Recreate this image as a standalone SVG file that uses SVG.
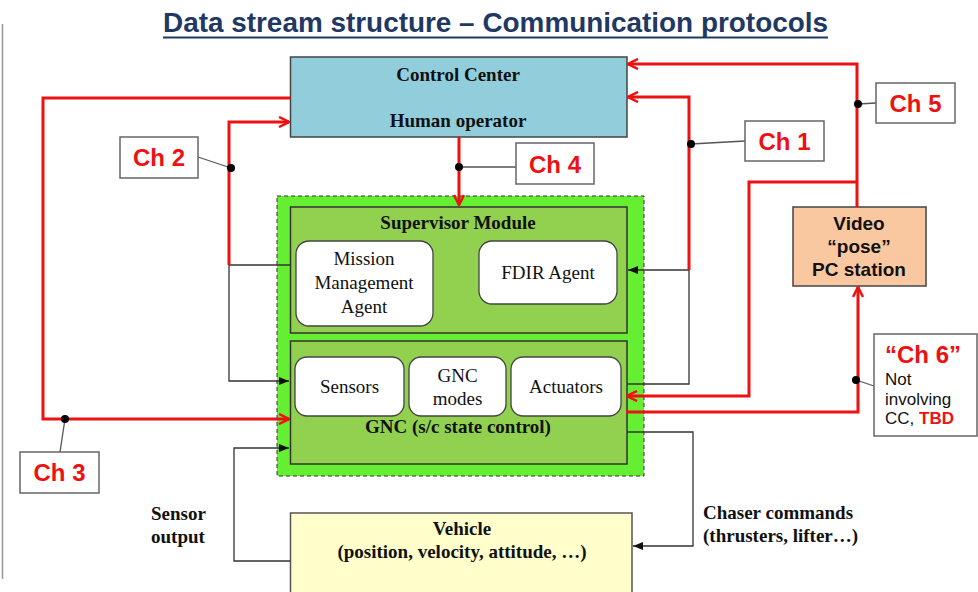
<svg xmlns="http://www.w3.org/2000/svg" width="978" height="592" viewBox="0 0 978 592">
<defs>
<style>
.ser{font-family:"Liberation Serif","Times New Roman",serif;fill:#111}
.serb{font-family:"Liberation Serif","Times New Roman",serif;font-weight:bold;fill:#111}
.sans{font-family:"Liberation Sans",Arial,sans-serif}
.ch{font-family:"Liberation Sans",Arial,sans-serif;font-weight:bold;font-size:24px;fill:#EE1111}
.chbox{fill:#fff;stroke:#666;stroke-width:1.5}
.red{fill:none;stroke:#EE1111;stroke-width:3}
.blk{fill:none;stroke:#333;stroke-width:1.3}
.lead{fill:none;stroke:#555;stroke-width:1.3}
.inner{fill:#92D050;stroke:#333;stroke-width:1.5}
.agent{fill:#fff;stroke:#444;stroke-width:1.3}
</style>
<marker id="ra" viewBox="0 0 12 12" refX="11" refY="6" markerWidth="12" markerHeight="12" markerUnits="userSpaceOnUse" orient="auto">
<path d="M1,1 L11,6 L1,11" fill="none" stroke="#EE1111" stroke-width="2.5"/>
</marker>
<marker id="ba" viewBox="0 0 10 10" refX="10" refY="5" markerWidth="10" markerHeight="10" markerUnits="userSpaceOnUse" orient="auto">
<path d="M0,1 L10,5 L0,9 Z" fill="#111"/>
</marker>
</defs>
<rect width="978" height="592" fill="#fff"/>
<line x1="2.5" y1="24" x2="2.5" y2="579" stroke="#999" stroke-width="1.5"/>
<g id="title">
<text x="163" y="32" class="sans" font-size="27" font-weight="bold" fill="#1F3864" textLength="665" lengthAdjust="spacingAndGlyphs">Data stream structure – Communication protocols</text>
<line x1="163" y1="37.5" x2="828" y2="37.5" stroke="#1F3864" stroke-width="2"/>
</g>
<g id="control-center">
<rect x="290.5" y="57" width="336.5" height="80" fill="#92CDDC" stroke="#444" stroke-width="1.5"/>
<text x="458" y="81" class="serb" font-size="19" text-anchor="middle">Control Center</text>
<text x="458" y="127" class="serb" font-size="19" text-anchor="middle">Human operator</text>
</g>
<g id="onboard">
<rect x="277" y="196" width="367" height="280" fill="#66EE33" stroke="#333" stroke-width="1" stroke-dasharray="4,3"/>
</g>
<g id="supervisor">
<rect x="290.5" y="207" width="336.5" height="126" class="inner"/>
<text x="458" y="229" class="serb" font-size="19" text-anchor="middle">Supervisor Module</text>
</g>
<g id="mission-agent">
<rect x="296" y="241" width="137" height="85" rx="13" class="agent"/>
<text x="364" y="265" class="ser" font-size="19" text-anchor="middle">Mission</text>
<text x="364" y="289" class="ser" font-size="19" text-anchor="middle">Management</text>
<text x="364" y="313" class="ser" font-size="19" text-anchor="middle">Agent</text>
</g>
<g id="fdir-agent">
<rect x="479" y="241" width="138" height="63" rx="13" class="agent"/>
<text x="548" y="279" class="ser" font-size="19" text-anchor="middle">FDIR Agent</text>
</g>
<g id="gnc">
<rect x="290.5" y="341" width="336.5" height="123" class="inner"/>
<text x="458" y="433" class="serb" font-size="19" text-anchor="middle">GNC (s/c state control)</text>
</g>
<g id="sensors">
<rect x="295" y="357" width="109" height="59" rx="12" class="agent"/>
<text x="349.5" y="393" class="ser" font-size="19" text-anchor="middle">Sensors</text>
</g>
<g id="gnc-modes">
<rect x="409" y="357" width="97" height="59" rx="12" class="agent"/>
<text x="457.5" y="382" class="ser" font-size="19" text-anchor="middle">GNC</text>
<text x="457.5" y="405" class="ser" font-size="19" text-anchor="middle">modes</text>
</g>
<g id="actuators">
<rect x="511" y="357" width="110" height="59" rx="12" class="agent"/>
<text x="566" y="393" class="ser" font-size="19" text-anchor="middle">Actuators</text>
</g>
<g id="vehicle">
<rect x="290.5" y="513" width="341.5" height="90" fill="#FFFFCC" stroke="#555" stroke-width="1.5"/>
<text x="462" y="535" class="serb" font-size="19" text-anchor="middle">Vehicle</text>
<text x="462" y="558" class="serb" font-size="19" text-anchor="middle">(position, velocity, attitude, …)</text>
</g>
<g id="video-pc">
<rect x="793" y="207" width="133" height="79" fill="#FAC8A0" stroke="#444" stroke-width="1.5"/>
<text x="859" y="230" class="sans" font-size="19" font-weight="bold" fill="#111" text-anchor="middle">Video</text>
<text x="859" y="253" class="sans" font-size="19" font-weight="bold" fill="#111" text-anchor="middle">“pose”</text>
<text x="859" y="276" class="sans" font-size="19" font-weight="bold" fill="#111" text-anchor="middle">PC station</text>
</g>
<g id="label-sensor-output">
<text x="151" y="520" class="serb" font-size="19">Sensor</text>
<text x="151" y="543" class="serb" font-size="19">output</text>
</g>
<g id="label-chaser">
<text x="703" y="519" class="serb" font-size="19">Chaser commands</text>
<text x="703" y="542" class="serb" font-size="19">(thrusters, lifter…)</text>
</g>
<g id="connectors">
<!-- black thin -->
<path class="blk" d="M229,265 H290.5"/>
<path class="blk" d="M229,265 V381 H289" marker-end="url(#ba)"/>
<path class="blk" d="M689,270 H628" marker-end="url(#ba)"/>
<path class="blk" d="M689,270 V384 H627"/>
<path class="blk" d="M290.5,561 H234 V448 H289" marker-end="url(#ba)"/>
<path class="blk" d="M627,432 H693 V546 H633" marker-end="url(#ba)"/>
<!-- red -->
<path class="red" d="M459,137 V205" marker-end="url(#ra)"/>
<path class="red" d="M229,265 V122 H289" marker-end="url(#ra)"/>
<path class="red" d="M290.5,98 H43 V419 H289" marker-end="url(#ra)"/>
<path class="red" d="M689,270 V97 H628" marker-end="url(#ra)"/>
<path class="red" d="M857,207 V64 H628" marker-end="url(#ra)"/>
<path class="red" d="M857,182 H749 V396 H627" marker-end="url(#ra)"/>
<path class="red" d="M626,412 H858 V287" marker-end="url(#ra)"/>
<!-- leaders and dots -->
<path class="lead" d="M459,167 H516"/>
<path class="lead" d="M231,168 L198,157"/>
<path class="lead" d="M65,419 L60,452"/>
<path class="lead" d="M691,144 L745,141"/>
<path class="lead" d="M858,104 L876,103"/>
<path class="lead" d="M856,380 L874,386"/>
<circle cx="459" cy="167" r="4" fill="#000"/>
<circle cx="231" cy="168" r="4" fill="#000"/>
<circle cx="65" cy="419" r="4" fill="#000"/>
<circle cx="691" cy="144" r="4" fill="#000"/>
<circle cx="858" cy="104" r="4" fill="#000"/>
<circle cx="856" cy="380" r="4" fill="#000"/>
</g>
<g id="ch1"><rect x="745" y="121" width="79" height="40" class="chbox"/><text x="784.5" y="150" class="ch" text-anchor="middle">Ch 1</text></g>
<g id="ch2"><rect x="120" y="137" width="78" height="41" class="chbox"/><text x="159" y="166" class="ch" text-anchor="middle">Ch 2</text></g>
<g id="ch3"><rect x="20" y="452" width="79" height="41" class="chbox"/><text x="59.5" y="481" class="ch" text-anchor="middle">Ch 3</text></g>
<g id="ch4"><rect x="516" y="143" width="78" height="41" class="chbox"/><text x="555" y="173" class="ch" text-anchor="middle">Ch 4</text></g>
<g id="ch5"><rect x="876" y="83" width="79" height="40" class="chbox"/><text x="915.5" y="112" class="ch" text-anchor="middle">Ch 5</text></g>
<g id="ch6">
<rect x="874" y="334" width="103" height="102" class="chbox"/>
<text x="885" y="363" class="ch">“Ch 6”</text>
<text x="885" y="385" class="sans" font-size="17" fill="#111">Not</text>
<text x="885" y="405" class="sans" font-size="17" fill="#111">involving</text>
<text x="885" y="424" class="sans" font-size="17" fill="#111">CC, <tspan font-weight="bold" fill="#EE1111">TBD</tspan></text>
</g>
</svg>
